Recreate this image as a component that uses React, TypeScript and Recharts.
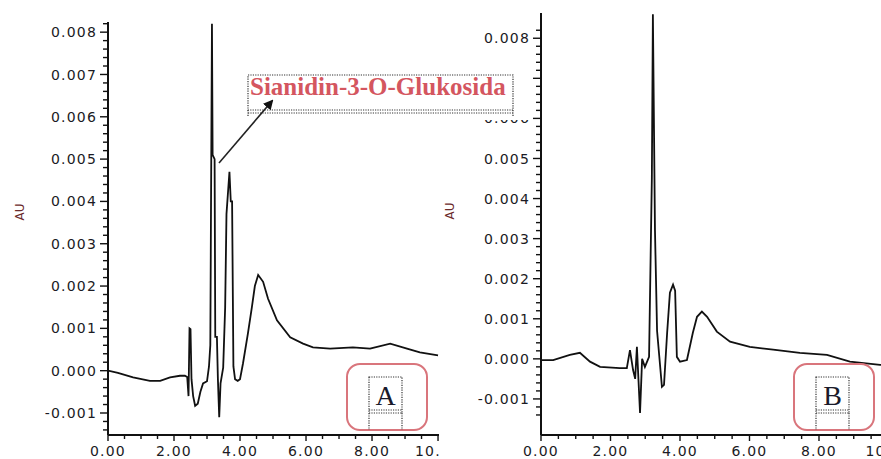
import { LineChart, Line, XAxis, YAxis } from "recharts";

/* ── chromatogram A (left panel): retention time (min) / absorbance (AU) ── */
const timeA = [
  0.0, 0.3, 0.76, 1.27, 1.58, 1.88, 2.18, 2.33, 2.4, 2.44, 2.47, 2.5, 2.53, 2.58, 2.64, 2.72, 2.8, 2.88,
  3.0, 3.06, 3.1, 3.15, 3.17, 3.23, 3.25, 3.3, 3.33, 3.37, 3.41, 3.49, 3.55, 3.59, 3.68, 3.72, 3.76, 3.8,
  3.85, 3.93, 4.0, 4.09, 4.24, 4.36, 4.45, 4.55, 4.7, 4.85, 5.12, 5.52, 5.91, 6.21, 6.73, 7.42, 7.94,
  8.55, 9.06, 9.45, 10.0,
];
const auA = [
  0.0, -0.00005, -0.00016, -0.00024, -0.00024, -0.00016, -0.00012, -0.00012, -0.00015, -0.0006, 0.001,
  0.00098, -0.0002, -0.0006, -0.00083, -0.00078, -0.0005, -0.0003, -0.00025, 0.0001, 0.0006, 0.0082,
  0.0051, 0.005, 0.0008, 0.0008, -0.0002, -0.0011, -0.0003, 0.00007, 0.0015, 0.0037, 0.0047, 0.004, 0.004,
  0.0001, -0.0002, -0.00024, -0.0002, 0.00017, 0.00088, 0.0015, 0.002, 0.00226, 0.0021, 0.0017, 0.00119,
  0.00079, 0.00064, 0.00055, 0.00052, 0.00055, 0.00052, 0.00064, 0.00052, 0.00043, 0.00036,
];

/* ── chromatogram B (right panel) ── */
const timeB = [
  0.0, 0.35, 0.83, 1.12, 1.41, 1.7, 2.27, 2.47, 2.56, 2.65, 2.71, 2.76, 2.85, 2.91, 2.99, 3.11, 3.19,
  3.22, 3.28, 3.34, 3.48, 3.54, 3.63, 3.71, 3.8, 3.86, 3.91, 4.0, 4.2, 4.37, 4.49, 4.63, 4.78, 5.06, 5.44,
  6.01, 6.68, 7.45, 8.23, 8.89, 9.76, 10.3,
];
const auB = [
  -0.00003, -0.00003, 0.0001, 0.00015, -0.00007, -0.0002, -0.00023, -0.00023, 0.00022, -0.00028, -0.0005,
  0.0003, -0.00135, 0.0, -0.0002, 0.00005, 0.0045, 0.0086, 0.0032, 0.0007, -0.0007, -0.00065, 0.00065,
  0.00165, 0.00185, 0.0017, 0.00005, -0.00007, -0.00003, 0.00065, 0.00105, 0.00118, 0.00105, 0.00068,
  0.00043, 0.0003, 0.00023, 0.00015, 0.0001, -0.00007, -0.00015, -0.00018,
];

const yMajorTicks = [-0.001, 0.0, 0.001, 0.002, 0.003, 0.004, 0.005, 0.006, 0.007, 0.008];
const xMajorTicks = [0, 2, 4, 6, 8, 10];
// the 0.007 label of panel B sits fully under the annotation box
const hiddenLabelsB = [0.007];

const peakLabel = "Sianidin-3-O-Glukosida";
const panelLabels = ["A", "B"];
const yAxisTitle = "AU";

// minor ticks: 4 between y labels (every 0.0002), 3 between x labels (every 0.5 min)
const yTicks: number[] = [];
for (let k = -7; k <= 41; k++) yTicks.push(Number((k * 0.0002).toFixed(4)));
const xTicks: number[] = [];
for (let k = 0; k <= 20; k++) xTicks.push(k * 0.5);

const dataA = timeA.map((t, i) => ({ t, au: auA[i] }));
const dataB = timeB.map((t, i) => ({ t, au: auB[i] }));

const TICK_FONT = "'DejaVu Sans', Verdana, sans-serif";
const INK = "#1b1b24";
const near = (a: number, b: number) => Math.abs(a - b) < 1e-7;

function YTick(props: any) {
  const { x, y, payload, hidden } = props;
  const v = payload.value as number;
  const major = yMajorTicks.some((m) => near(m, v));
  const showText = major && !(hidden as number[]).some((h) => near(h, v));
  return (
    <g>
      <line x1={x - (major ? 8 : 5)} y1={y} x2={x} y2={y} stroke="#111" strokeWidth={1.4} />
      {showText && (
        <text
          x={x - 11}
          y={y}
          dy="0.36em"
          textAnchor="end"
          fontFamily={TICK_FONT}
          fontSize={14}
          letterSpacing={1.2}
          fill={INK}
        >
          {v.toFixed(3)}
        </text>
      )}
    </g>
  );
}

function XTick(props: any) {
  const { x, y, payload } = props;
  const v = payload.value as number;
  const major = xMajorTicks.includes(v);
  return (
    <g>
      <line x1={x} y1={y} x2={x} y2={y + (major ? 6 : 4)} stroke="#111" strokeWidth={1.4} />
      {major && (
        <text
          x={x}
          y={y + 16}
          dy="0.36em"
          textAnchor="middle"
          fontFamily={TICK_FONT}
          fontSize={14}
          letterSpacing={1.2}
          fill={INK}
        >
          {v.toFixed(2)}
        </text>
      )}
    </g>
  );
}

function Chromatogram({
  data,
  width,
  top,
  axisWidth,
  yDomain,
  xMax,
  hidden,
}: {
  data: { t: number; au: number }[];
  width: number;
  top: number;
  axisWidth: number;
  yDomain: [number, number];
  xMax: number;
  hidden: number[];
}) {
  return (
    <LineChart width={width} height={459} data={data} margin={{ top, right: 0, bottom: 0, left: 0 }}>
      <XAxis
        type="number"
        dataKey="t"
        domain={[0, xMax]}
        ticks={xTicks}
        interval={0}
        allowDataOverflow
        height={24}
        tickSize={0}
        tickMargin={0}
        tickLine={false}
        tick={<XTick />}
        axisLine={{ stroke: "#111", strokeWidth: 2 }}
      />
      <YAxis
        type="number"
        domain={yDomain}
        ticks={yTicks}
        interval={0}
        allowDataOverflow
        width={axisWidth}
        tickSize={0}
        tickMargin={0}
        tickLine={false}
        tick={<YTick hidden={hidden} />}
        axisLine={{ stroke: "#111", strokeWidth: 2 }}
      />
      <Line
        type="linear"
        dataKey="au"
        stroke="#111"
        strokeWidth={1.8}
        dot={false}
        isAnimationActive={false}
      />
    </LineChart>
  );
}

function PanelBox({ x, label }: { x: number; label: string }) {
  const ix = x + 22;
  return (
    <g>
      <rect x={x} y={364} width={80} height={66} rx={13} fill="none" stroke="#d9757c" strokeWidth={2} />
      <rect x={ix} y={377} width={33} height={36} fill="none" stroke="#333" strokeWidth={1.2} strokeDasharray="1.2 1.2" />
      <line x1={ix} y1={410} x2={ix + 33} y2={410} stroke="#333" strokeWidth={1.2} strokeDasharray="1.2 1.2" />
      <line x1={ix} y1={413} x2={ix} y2={430} stroke="#333" strokeWidth={1.2} strokeDasharray="1.2 1.2" />
      <line x1={ix + 33} y1={413} x2={ix + 33} y2={430} stroke="#333" strokeWidth={1.2} strokeDasharray="1.2 1.2" />
      <text
        x={ix + 16.5}
        y={405}
        textAnchor="middle"
        fontFamily="'Liberation Serif', 'Times New Roman', serif"
        fontSize={28}
        fill="#1a1a2a"
      >
        {label}
      </text>
    </g>
  );
}

export default function App() {
  return (
    <div
      style={{
        position: "absolute",
        left: 0,
        top: 0,
        width: 881,
        height: 459,
        overflow: "hidden",
        background: "#fff",
      }}
    >
      <div style={{ position: "absolute", left: 0, top: 0, width: 439, height: 459, overflow: "hidden" }}>
        <Chromatogram
          data={dataA}
          width={441}
          top={22}
          axisWidth={108}
          yDomain={[-0.00152, 0.00824]}
          xMax={10.09}
          hidden={[]}
        />
      </div>
      <div style={{ position: "absolute", left: 441, top: 0, width: 460, height: 459, overflow: "hidden" }}>
        <Chromatogram
          data={dataB}
          width={460}
          top={13}
          axisWidth={100}
          yDomain={[-0.0019, 0.00863]}
          xMax={10.36}
          hidden={hiddenLabelsB}
        />
      </div>
      <svg
        width={881}
        height={459}
        style={{ position: "absolute", left: 0, top: 0, pointerEvents: "none" }}
      >
        <defs>
          <marker id="arrowHead" markerWidth={10} markerHeight={10} refX={8} refY={5} orient="auto" markerUnits="userSpaceOnUse">
            <path d="M0,0 L10,5 L0,10 z" fill="#111" />
          </marker>
        </defs>
        {/* axis titles */}
        <text x={20} y={212} transform="rotate(-90 20 212)" textAnchor="middle" dy="0.36em" fontFamily={TICK_FONT} fontSize={12} fill="#6b2b2b">
          {yAxisTitle}
        </text>
        <text x={450} y={211} transform="rotate(-90 450 211)" textAnchor="middle" dy="0.36em" fontFamily={TICK_FONT} fontSize={12} fill="#6b2b2b">
          {yAxisTitle}
        </text>
        {/* peak annotation (its white box hides part of the right axis labels) */}
        <rect x={246} y={70} width={286} height={50} fill="#fff" />
        <rect x={248} y={75} width={265} height={35} fill="none" stroke="#333" strokeWidth={1.2} strokeDasharray="1.2 1.2" />
        <line x1={248} y1={113} x2={513} y2={113} stroke="#333" strokeWidth={1.2} strokeDasharray="1.2 1.2" />
        <line x1={248} y1={110} x2={248} y2={116} stroke="#333" strokeWidth={1.2} strokeDasharray="1.2 1.2" />
        <line x1={513} y1={110} x2={513} y2={116} stroke="#333" strokeWidth={1.2} strokeDasharray="1.2 1.2" />
        <text
          x={250}
          y={95}
          fontFamily="'Liberation Serif', 'Times New Roman', serif"
          fontWeight="bold"
          fontSize={25}
          fill="#d4565f"
        >
          {peakLabel}
        </text>
        <line x1={219} y1={163} x2={272} y2={101} stroke="#222" strokeWidth={1.6} markerEnd="url(#arrowHead)" />
        <PanelBox x={347} label={panelLabels[0]} />
        <PanelBox x={794} label={panelLabels[1]} />
      </svg>
    </div>
  );
}
